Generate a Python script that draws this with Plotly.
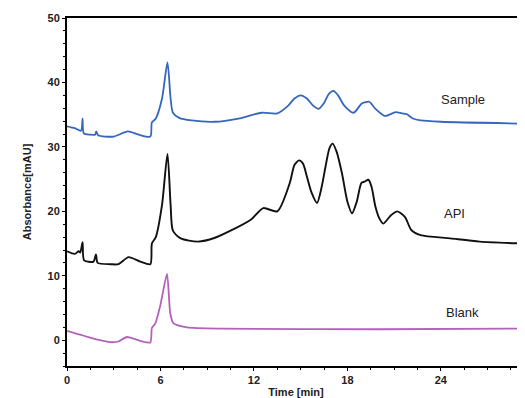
import plotly.graph_objects as go

# Sample (blue)
sample_t = [0, 0.5, 0.9, 1.0, 1.08, 1.5, 1.8, 1.88, 2.0, 3.0, 3.9, 4.6, 5.35, 5.45, 5.7, 6.1,
            6.45, 6.65, 6.8, 7.2, 8.0, 9.5, 11.0, 12.5, 13.5, 14.2, 14.6, 15.0, 15.4, 15.8, 16.15,
            16.5, 16.8, 17.1, 17.4, 17.8, 18.4, 18.9, 19.1, 19.4, 19.8, 20.4, 21.1, 21.5, 21.8,
            22.2, 22.7, 24.0, 29.4]
sample_v = [33.2, 32.9, 32.5, 34.4, 32.1, 31.9, 31.9, 32.4, 31.8, 31.6, 32.4, 31.9, 31.6, 33.8, 34.4, 37.5,
            43.1, 37.5, 35.3, 34.5, 34.1, 33.9, 34.4, 35.3, 35.2, 36.4, 37.5, 38.0, 37.5, 36.4, 35.9,
            36.8, 38.2, 38.7, 38.0, 36.4, 35.3, 36.7, 36.9, 37.0, 35.9, 34.8, 35.4, 35.2, 35.1,
            34.4, 34.1, 33.9, 33.6]

# API (black)
api_t = [0, 0.5, 0.75, 0.85, 1.0, 1.1, 1.7, 1.86, 1.97, 2.8, 3.3, 3.95, 4.7, 5.35, 5.45, 5.7,
         6.1, 6.45, 6.65, 6.8, 7.3, 8.4, 9.5, 10.5, 11.8, 12.6, 13.5, 14.3, 14.6, 14.9, 15.15,
         15.4, 15.7, 16.05, 16.35, 16.6, 16.85, 17.05, 17.3, 17.65, 18.0, 18.3, 18.6, 18.9, 19.1,
         19.35, 19.55, 19.8, 20.05, 20.3, 20.8, 21.2, 21.7, 22.1, 22.7, 24.6, 26.5, 29.4]
api_v = [13.8, 13.4, 13.8, 13.6, 15.2, 12.4, 12.2, 13.3, 12.0, 11.8, 11.8, 12.9, 12.2, 11.8, 15.0, 16.0,
         21.0, 28.9, 21.0, 17.0, 15.8, 15.3, 15.9, 17.0, 18.7, 20.5, 20.0, 24.4, 27.2, 27.9, 27.4,
         25.4, 22.9, 21.3, 23.8, 27.0, 29.8, 30.5, 29.3, 25.9, 21.5, 19.7, 21.5, 24.4, 24.6,
         24.9, 23.8, 20.7, 18.9, 18.1, 19.4, 20.0, 19.1, 17.1, 16.3, 15.8, 15.3, 15.0]

# Blank (purple)
blank_t = [0, 1.7, 2.8, 3.3, 3.85, 4.7, 5.35, 5.45, 5.67, 6.0, 6.42, 6.63, 6.84, 7.7, 10.0, 20.0, 29.4]
blank_v = [1.45, 0.26, -0.3, -0.2, 0.5, -0.1, -0.35, 1.9, 2.6, 5.5, 10.3, 4.1, 2.6, 2.0, 1.8, 1.7, 1.8]

labels = ["Sample", "API", "Blank"]
label_t = [25.4, 24.9, 25.4]
label_v = [37.3, 19.7, 4.3]

x_ticks = [0, 6, 12, 18, 24]
y_ticks = [0, 10, 20, 30, 40, 50]

fig = go.Figure()
fig.add_trace(go.Scatter(x=sample_t, y=sample_v, mode="lines",
                         line=dict(color="#3467bd", width=1.8, shape="spline", smoothing=0.7)))
fig.add_trace(go.Scatter(x=api_t, y=api_v, mode="lines",
                         line=dict(color="#111111", width=1.9, shape="spline", smoothing=0.7)))
fig.add_trace(go.Scatter(x=blank_t, y=blank_v, mode="lines",
                         line=dict(color="#b262ba", width=1.8, shape="spline", smoothing=0.6)))

for lab, tx, ty in zip(labels, label_t, label_v):
    fig.add_annotation(x=tx, y=ty, text=lab, showarrow=False,
                       font=dict(family="Liberation Sans, Arial", size=13, color="#222"))

# page body has an 8px default margin: figure is sized so the plot lands where the reference has it
fig.update_layout(
    width=517, height=390,
    margin=dict(l=59, r=0, t=10, b=32),
    paper_bgcolor="white", plot_bgcolor="white",
    showlegend=False,
    font=dict(family="Liberation Sans, Arial", size=11, color="#222"),
)
fig.update_xaxes(range=[0, 29.4], tickvals=x_ticks, showgrid=False, zeroline=False,
                 showline=True, linecolor="black", linewidth=2, mirror=True,
                 ticks="outside", ticklen=3, tickcolor="black", automargin=False,
                 minor=dict(dtick=1.5, ticks="outside", ticklen=2, tickcolor="black"),
                 tickfont=dict(size=11, weight="bold"),
                 title=dict(text="Time [min]", font=dict(size=11, weight="bold"), standoff=6))
fig.update_yaxes(range=[-4, 50], tickvals=y_ticks, showgrid=False, zeroline=False,
                 showline=True, linecolor="black", linewidth=2, mirror=False,
                 ticks="outside", ticklen=3, tickcolor="black", automargin=False,
                 minor=dict(dtick=2, ticks="outside", ticklen=2, tickcolor="black"),
                 tickfont=dict(size=11, weight="bold"),
                 title=dict(text="Absorbance[mAU]", font=dict(size=11, weight="bold"), standoff=14))

fig.write_html("out.html")
